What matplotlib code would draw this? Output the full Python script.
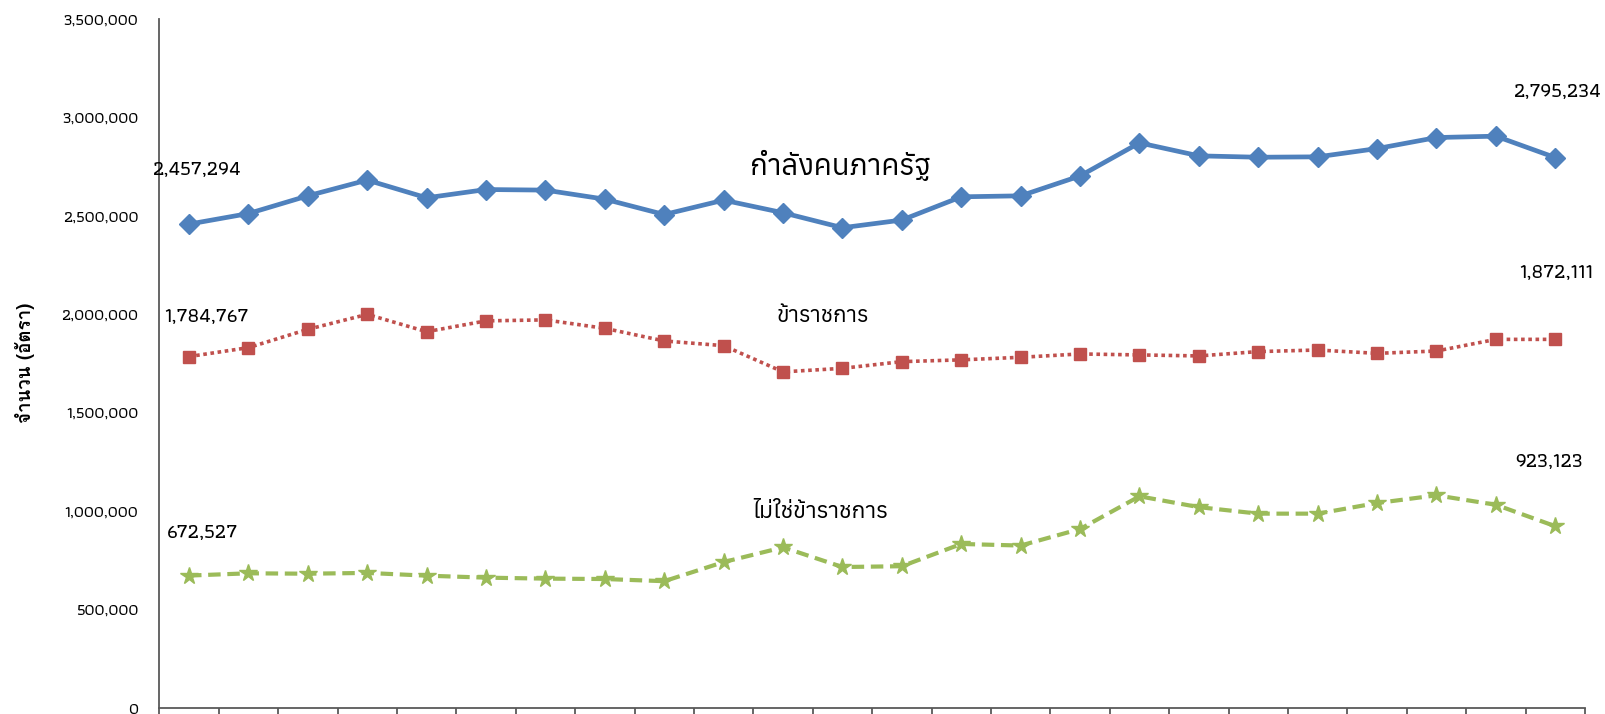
import matplotlib
matplotlib.use("Agg")
import matplotlib.pyplot as plt
import numpy as np

# ---------------- data ----------------
categories = [str(i) for i in range(1, 25)]
total_state = [2457294, 2511000, 2601000, 2681000, 2591000, 2633000, 2630000, 2584000,
               2506000, 2579000, 2515000, 2439000, 2478000, 2596000, 2601000, 2702000,
               2870000, 2804000, 2797000, 2799000, 2841000, 2897000, 2904000, 2795234]
civil_servants = [1784767, 1830000, 1923000, 1999000, 1911000, 1966000, 1971000, 1928000,
                  1864000, 1840000, 1707000, 1725000, 1759000, 1768000, 1781000, 1798000,
                  1793000, 1788000, 1810000, 1818000, 1801000, 1813000, 1872000, 1872111]
non_civil = [672527, 684000, 682000, 686000, 672000, 662000, 657000, 655000,
             644000, 741000, 816000, 716000, 720000, 833000, 825000, 909000,
             1075000, 1020000, 987000, 987000, 1041000, 1080000, 1032000, 923123]
series_names = ["กำลังคนภาครัฐ", "ข้าราชการ", "ไม่ใช่ข้าราชการ"]
y_ticks = [0, 500000, 1000000, 1500000, 2000000, 2500000, 3000000, 3500000]
y_label = "จำนวน (อัตรา)"

# ---------------- fonts ----------------
num_family = ["Athiti", "DejaVu Sans"]
thai_family = ["Anuphan", "DejaVu Sans"]
label_family = ["Loma", "DejaVu Sans"]

# ---------------- figure ----------------
W, H = 1605, 714
fig = plt.figure(figsize=(W / 100, H / 100), dpi=100)
ax = fig.add_axes([159.3 / W, 6 / H, (1585 - 159.3) / W, 689.2 / H])

x = np.arange(len(categories))
ax.plot(x, total_state, color="#4F81BD", lw=3.4, marker="D", ms=10, mec="#4F81BD", zorder=3)
ax.plot(x, civil_servants, color="#C0504D", lw=2.6, ls=(0, (1, 1)), marker="s", ms=8,
        mec="#C0504D", zorder=3)
ax.plot(x, non_civil, color="#9BBB59", lw=3.0, ls=(0, (3, 1.6)), marker="*", ms=13,
        mec="#9BBB59", zorder=3)

ax.set_xlim(-0.5, len(categories) - 0.5)
ax.set_ylim(0, 3500000)
ax.set_xticks(np.arange(len(categories) + 1) - 0.5)
ax.set_xticklabels([])
ax.tick_params(axis="x", length=7, width=1.3, color="#595959", direction="out")
ax.set_yticks(y_ticks)
ax.set_yticklabels([f"{v:,}" for v in y_ticks], family=num_family, fontsize=12,
                   fontweight=500)
ax.tick_params(axis="y", length=0, pad=15)
for s in ["top", "right"]:
    ax.spines[s].set_visible(False)
for s in ["left", "bottom"]:
    ax.spines[s].set_color("#595959")
    ax.spines[s].set_linewidth(1.3)

fig.text(25 / W, 1 - 363 / H, y_label, rotation=90, ha="center", va="center",
         fontsize=13.5, fontweight="bold", family=label_family)

def px(xp, yp):
    return xp / W, 1 - yp / H

lbl_kw = dict(family=num_family, fontsize=15, fontweight=500, ha="center", va="center")
fig.text(*px(197, 170), f"{total_state[0]:,}", **lbl_kw)
fig.text(*px(206, 316.7), f"{civil_servants[0]:,}", **lbl_kw)
fig.text(*px(202, 533.3), f"{non_civil[0]:,}", **lbl_kw)
fig.text(*px(1558, 91.7), f"{total_state[-1]:,}", **lbl_kw)
fig.text(*px(1556, 273.3), f"{civil_servants[-1]:,}", **lbl_kw)
fig.text(*px(1549, 461.7), f"{non_civil[-1]:,}", **lbl_kw)

fig.text(*px(840, 165), series_names[0], family=thai_family, fontsize=21, ha="center", va="center")
fig.text(*px(823, 316), series_names[1], family=thai_family, fontsize=16, ha="center", va="center")
fig.text(*px(820, 512), series_names[2], family=thai_family, fontsize=16.5, ha="center", va="center")

fig.savefig("out.png", dpi=100, facecolor="white")
